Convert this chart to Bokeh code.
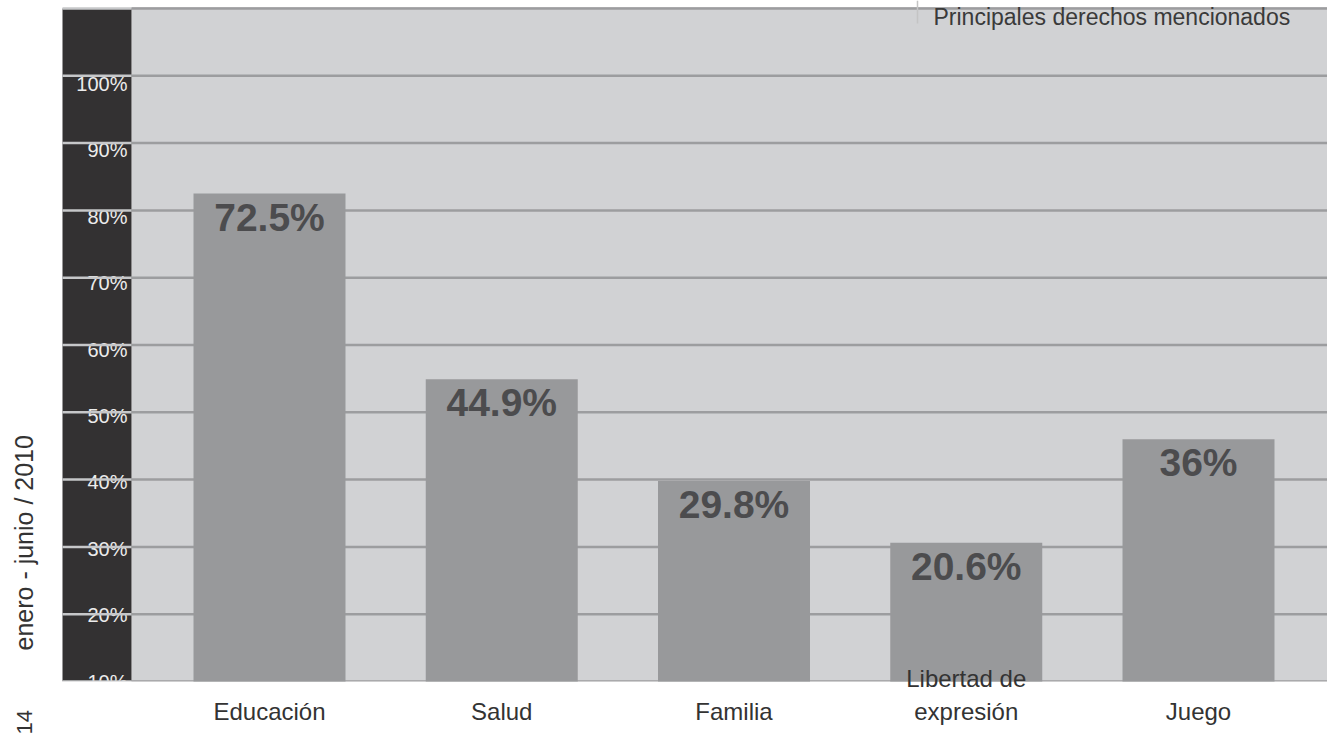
import math
from bokeh.plotting import figure
from bokeh.models import Range1d
from bokeh.core.properties import value
from bokeh.embed import file_html
from bokeh.resources import INLINE

# ---------------- data ----------------
categories = ["Educación", "Salud", "Familia", "Libertad de\nexpresión", "Juego"]
values = [72.5, 44.9, 29.8, 20.6, 36.0]
value_labels = ["72.5%", "44.9%", "29.8%", "20.6%", "36%"]
tick_values = [0, 10, 20, 30, 40, 50, 60, 70, 80, 90]
tick_labels = ["10%", "20%", "30%", "40%", "50%", "60%", "70%", "80%", "90%", "100%"]
grid_values = [0, 10, 20, 30, 40, 50, 60, 70, 80, 90, 100]
title_text = "Principales derechos mencionados"
side_note = "enero - junio / 2010"
page_number = "14"

# ---------------- layout helpers ----------------
W, H = 1327, 735
X0_PX, X_STEP = 269.0, 232.25   # pixel of first category centre, pixels per category
Y0_PX, Y_STEP = 681.0, 6.73     # pixel of baseline, pixels per percentage point


def px_x(px):
    return (px - X0_PX) / X_STEP


def px_y(py):
    return (Y0_PX - py) / Y_STEP


FONT = "Liberation Sans"

p = figure(width=W, height=H,
           x_range=Range1d(px_x(0), px_x(W)),
           y_range=Range1d(px_y(H), px_y(0)),
           output_backend="svg", toolbar_location=None,
           x_axis_location=None, y_axis_location=None,
           min_border=0, outline_line_color=None,
           background_fill_color="white", border_fill_color="white")
p.grid.visible = False

# plot background and dark label band
p.quad(left=px_x(131), right=px_x(W), bottom=0, top=100 + 1.5 / Y_STEP,
       fill_color="#d1d2d4", line_color=None)
p.quad(left=px_x(62), right=px_x(131), bottom=0, top=100,
       fill_color="#333132", line_color=None)

# y tick labels inside the dark band
p.text(x=[px_x(127)] * len(tick_values), y=tick_values, text=tick_labels,
       text_align="right", text_baseline="middle",
       y_offset=[0.09 * v for v in tick_values],
       text_color="#ececec", text_font=value(FONT), text_font_size="20px")

# grid lines (lighter over the band, darker over the plot)
p.segment(x0=[px_x(62)] * len(grid_values), x1=[px_x(131)] * len(grid_values),
          y0=grid_values, y1=grid_values, line_color="#c6c7c9", line_width=2.5)
p.segment(x0=[px_x(131)] * len(grid_values), x1=[px_x(W)] * len(grid_values),
          y0=grid_values, y1=grid_values, line_color="#9c9d9f", line_width=2.5)

# white area under the plot (clips the lowest tick label)
p.quad(left=px_x(0), right=px_x(W), bottom=px_y(H), top=0,
       fill_color="white", line_color=None)

# bars
xs = list(range(len(categories)))
p.vbar(x=xs, top=values, bottom=0, width=152 / X_STEP,
       fill_color="#98999b", line_color=None)

# value labels
p.text(x=xs, y=values, text=value_labels, text_align="center", text_baseline="top",
       y_offset=2, text_color="#4c4c4e", text_font=value(FONT),
       text_font_style="bold", text_font_size="39px")

# category labels (multi-line ones stacked upward from the common baseline)
cx, cy, ct = [], [], []
for i, c in enumerate(categories):
    lines = c.split("\n")
    n = len(lines)
    for j, ln in enumerate(lines):
        cx.append(i)
        cy.append(px_y(711 - (n - 1 - j) * 33))
        ct.append(ln)
p.text(x=cx, y=cy, text=ct, text_align="center", text_baseline="alphabetic",
       text_color="#333333", text_font=value(FONT), text_font_size="24px")

# title at the top right with a small divider
p.segment(x0=[px_x(917)], x1=[px_x(917)], y0=[px_y(0)], y1=[px_y(23)],
          line_color="#c4c4c4", line_width=1.5)
p.text(x=[px_x(933)], y=[px_y(16)], text=[title_text], text_align="left",
       text_baseline="alphabetic", text_color="#3a3a3a",
       text_font=value(FONT), text_font_size="23px")

# rotated side note and page number
p.text(x=[px_x(23)], y=[px_y(650)], text=[side_note], angle=math.pi / 2,
       text_align="left", text_baseline="alphabetic", text_color="#333333",
       text_font=value(FONT), text_font_size="25px")
p.text(x=[px_x(24)], y=[px_y(734)], text=[page_number], angle=math.pi / 2,
       text_align="left", text_baseline="alphabetic", text_color="#333333",
       text_font=value(FONT), text_font_size="22px")

open("out.html", "w").write(file_html(p, INLINE))
